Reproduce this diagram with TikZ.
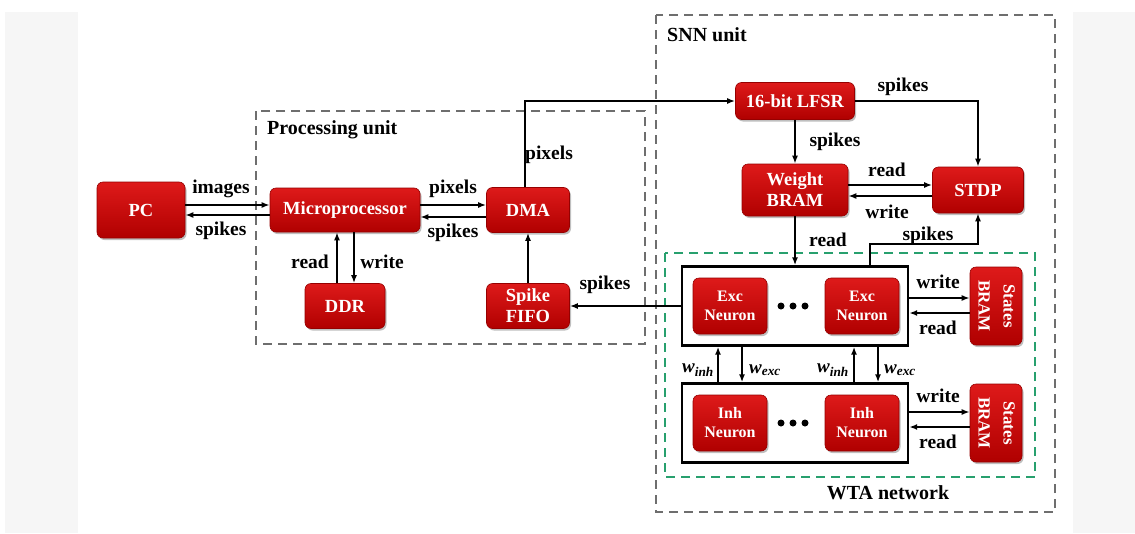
\documentclass[tikz,border=0pt]{standalone}
\usepackage{fontspec}
\setmainfont{Liberation Serif}
\usepackage{graphicx}
\usetikzlibrary{arrows.meta,shadows}

\definecolor{redtop}{RGB}{222,26,26}
\definecolor{redbot}{RGB}{176,0,0}
\definecolor{redline}{RGB}{150,0,0}
\definecolor{unitgray}{RGB}{110,110,110}
\definecolor{wtagreen}{RGB}{40,160,110}
\definecolor{sidegray}{RGB}{246,246,246}

\begin{document}
\begin{tikzpicture}[x=1pt, y=-1pt,
  box/.style={draw=redline, line width=0.6pt, rounded corners=6pt, top color=redtop, bottom color=redbot,
    drop shadow={shadow xshift=1.5pt, shadow yshift=-2pt, fill=black, opacity=0.25},
    text=white, align=center, inner sep=0pt, font=\bfseries\fontsize{18.5}{21}\selectfont},
  neuron/.style={box, minimum width=74, minimum height=56, font=\bfseries\fontsize{16}{19}\selectfont},
  layer/.style={draw=black, line width=2.4pt, fill=white, minimum width=226, minimum height=79, inner sep=0pt},
  arrow/.style={-{Latex[length=8pt,width=6pt]}, line width=1.8pt},
  lbl/.style={font=\bfseries\fontsize{19.5}{21}\selectfont, inner sep=0pt},
  title/.style={font=\bfseries\fontsize{20}{22}\selectfont, inner sep=0pt},
  group/.style={draw=unitgray, line width=1.8pt, dash pattern=on 9pt off 6pt}
]
% page background
\fill[white] (0,0) rectangle (1135,533);
\fill[sidegray] (5,12) rectangle (78,533);
\fill[sidegray] (1073,12) rectangle (1135,533);
\useasboundingbox (0,0) rectangle (1135,533);

% dashed units
\draw[group] (256,111) rectangle (645,344);
\draw[group] (656,15) rectangle (1055,512);
\draw[group, draw=wtagreen] (665,253) rectangle (1035,477);
\node[title, anchor=west] (procT) at (267,130) {Processing unit};
\node[title, anchor=west] (snnT) at (667,35) {SNN unit};
\node[title] (wtaT) at (888,493) {WTA network};

% processing unit
\node[box, minimum width=88, minimum height=56] (pc) at (141,210) {PC};
\node[box, minimum width=150, minimum height=44] (micro) at (345,210) {Microprocessor};
\node[box, minimum width=80, minimum height=45] (ddr) at (345,306) {DDR};
\node[box, minimum width=83, minimum height=45] (dma) at (528,210) {DMA};
\node[box, minimum width=83, minimum height=45] (fifo) at (528,306) {Spike\\FIFO};

% SNN unit
\node[box, minimum width=119, minimum height=37] (lfsr) at (795,101) {16-bit LFSR};
\node[box, minimum width=106, minimum height=52] (wbram) at (795,190) {Weight\\BRAM};
\node[box, minimum width=91, minimum height=46] (stdp) at (978,190) {STDP};

% WTA network
\node[layer] (exc) at (795,306) {};
\node[layer] (inh) at (795,423) {};
\node[neuron] (exc1) at (730,306) {Exc\\Neuron};
\node[neuron] (exc2) at (862,306) {Exc\\Neuron};
\node[neuron] (inh1) at (730,423) {Inh\\Neuron};
\node[neuron] (inh2) at (862,423) {Inh\\Neuron};
\foreach \y in {306,423}
  \foreach \x in {781,793,805}
    \fill (\x,\y) circle (3.5);
\node[box, minimum width=52, minimum height=78, font=\bfseries\fontsize{17}{25}\selectfont] (st1) at (996,306)
  {\rotatebox{-90}{\begin{tabular}{@{}c@{}}States\\BRAM\end{tabular}}};
\node[box, minimum width=52, minimum height=78, font=\bfseries\fontsize{17}{25}\selectfont] (st2) at (996,423)
  {\rotatebox{-90}{\begin{tabular}{@{}c@{}}States\\BRAM\end{tabular}}};

% connectors
\draw[arrow] ([yshift=5pt]pc.east) -- ([yshift=5pt]micro.west);
\draw[arrow] ([yshift=-5pt]micro.west) -- ([yshift=-5pt]pc.east);
\draw[arrow] ([yshift=5pt]micro.east) -- ([yshift=5pt]dma.west);
\draw[arrow] ([yshift=-7pt]dma.west) -- ([yshift=-7pt]micro.east);
\draw[arrow] ([xshift=-8pt]ddr.north) -- ([xshift=-8pt]micro.south);
\draw[arrow] ([xshift=9pt]micro.south) -- ([xshift=9pt]ddr.north);
\draw[arrow] (fifo) -- (dma);
\draw[arrow] (exc.west) -- (fifo.east);
\draw[arrow] ([xshift=-3pt]dma.north) |- (lfsr.west);
\draw[arrow] (lfsr.east) -| (stdp.north);
\draw[arrow] (lfsr) -- (wbram);
\draw[arrow] ([yshift=5pt]wbram.east) -- ([yshift=5pt]stdp.west);
\draw[arrow] ([yshift=-6pt]stdp.west) -- ([yshift=-6pt]wbram.east);
\draw[arrow] (wbram) -- (exc);
\draw[arrow] ([xshift=75pt]exc.north) -- ++(0,-21) -| (stdp.south);
\draw[arrow] ([yshift=8pt]exc.east) -- ([yshift=8pt]st1.west);
\draw[arrow] ([yshift=-7pt]st1.west) -- ([yshift=-7pt]exc.east);
\draw[arrow] ([yshift=11pt]inh.east) -- ([yshift=11pt]st2.west);
\draw[arrow] ([yshift=-4pt]st2.west) -- ([yshift=-4pt]inh.east);
\draw[arrow] ([xshift=-77pt]inh.north) -- ([xshift=-77pt]exc.south);
\draw[arrow] ([xshift=-53pt]exc.south) -- ([xshift=-53pt]inh.north);
\draw[arrow] ([xshift=59pt]inh.north) -- ([xshift=59pt]exc.south);
\draw[arrow] ([xshift=83pt]exc.south) -- ([xshift=83pt]inh.north);

% connector labels
\node[lbl] (l1) at (221,189) {images};
\node[lbl] (l2) at (221,231) {spikes};
\node[lbl] (l3) at (453,189) {pixels};
\node[lbl] (l4) at (453,233) {spikes};
\node[lbl] (l5) at (310,262) {read};
\node[lbl] (l6) at (382,262) {write};
\node[lbl] (l7) at (549,155) {pixels};
\node[lbl] (l8) at (605,285) {spikes};
\node[lbl] (l9) at (903,87) {spikes};
\node[lbl] (l10) at (835,142) {spikes};
\node[lbl] (l11) at (887,170) {read};
\node[lbl] (l12) at (887,212) {write};
\node[lbl] (l13) at (828,240) {read};
\node[lbl] (l14) at (928,236) {spikes};
\node[lbl] (l15) at (938,282) {write};
\node[lbl] (l16) at (938,328) {read};
\node[lbl] (l17) at (938,396) {write};
\node[lbl] (l18) at (938,442) {read};
\node[lbl, font=\bfseries\itshape\fontsize{19}{21}\selectfont] (w1) at (698,370) {w\textsubscript{inh}};
\node[lbl, font=\bfseries\itshape\fontsize{19}{21}\selectfont] (w2) at (765,370) {w\textsubscript{exc}};
\node[lbl, font=\bfseries\itshape\fontsize{19}{21}\selectfont] (w3) at (833,370) {w\textsubscript{inh}};
\node[lbl, font=\bfseries\itshape\fontsize{19}{21}\selectfont] (w4) at (900,370) {w\textsubscript{exc}};
\end{tikzpicture}
\end{document}
